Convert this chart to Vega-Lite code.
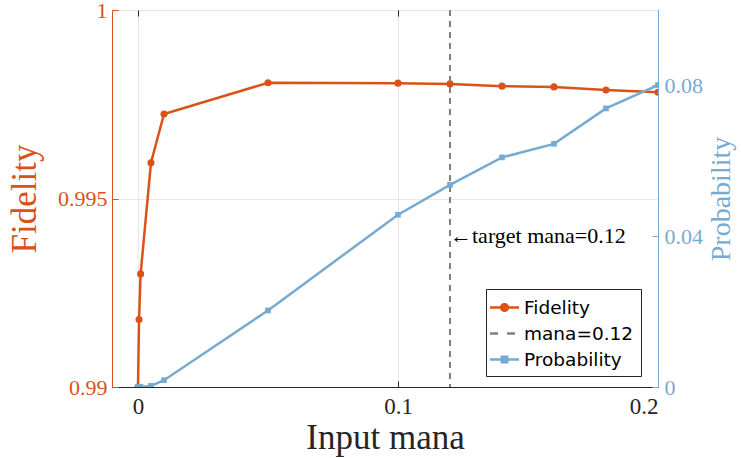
{
  "$schema": "https://vega.github.io/schema/vega-lite/v6.json",
  "width": 546,
  "height": 377,
  "autosize": {"type": "none"},
  "padding": {"left": 112, "top": 10, "right": 83, "bottom": 71},
  "config": {
    "view": {"stroke": "#666666", "strokeWidth": 1},
    "font": "Liberation Serif"
  },
  "datasets": {
    "fid": [
      {"x": 0, "fidelity": 0.99, "series": "Fidelity"},
      {"x": 0.0004, "fidelity": 0.99179, "series": "Fidelity"},
      {"x": 0.001, "fidelity": 0.993, "series": "Fidelity"},
      {"x": 0.005, "fidelity": 0.99595, "series": "Fidelity"},
      {"x": 0.01, "fidelity": 0.99724, "series": "Fidelity"},
      {"x": 0.05, "fidelity": 0.99807, "series": "Fidelity"},
      {"x": 0.1, "fidelity": 0.99806, "series": "Fidelity"},
      {"x": 0.12, "fidelity": 0.99804, "series": "Fidelity"},
      {"x": 0.14, "fidelity": 0.99798, "series": "Fidelity"},
      {"x": 0.16, "fidelity": 0.99796, "series": "Fidelity"},
      {"x": 0.18, "fidelity": 0.99788, "series": "Fidelity"},
      {"x": 0.2, "fidelity": 0.99782, "series": "Fidelity"}
    ],
    "prob": [
      {"x": 0, "probability": 0, "series": "Probability"},
      {"x": 0.0004, "probability": 0, "series": "Probability"},
      {"x": 0.001, "probability": 0, "series": "Probability"},
      {"x": 0.005, "probability": 0.0003, "series": "Probability"},
      {"x": 0.01, "probability": 0.0018, "series": "Probability"},
      {"x": 0.05, "probability": 0.0203, "series": "Probability"},
      {"x": 0.1, "probability": 0.0457, "series": "Probability"},
      {"x": 0.12, "probability": 0.0536, "series": "Probability"},
      {"x": 0.14, "probability": 0.0609, "series": "Probability"},
      {"x": 0.16, "probability": 0.0645, "series": "Probability"},
      {"x": 0.18, "probability": 0.0739, "series": "Probability"},
      {"x": 0.2, "probability": 0.0801, "series": "Probability"}
    ],
    "target": [
      {"x": 0.12, "series": "mana=0.12", "label": "←target mana=0.12", "fidelity": 0.994}
    ]
  },
  "layer": [
    {
      "layer": [
        {
          "data": {"name": "fid"},
          "mark": {"type": "line", "strokeWidth": 2.5, "clip": true},
          "encoding": {
            "x": {
              "field": "x", "type": "quantitative",
              "scale": {"domain": [-0.01, 0.2], "nice": false, "zero": false},
              "axis": {
                "values": [0, 0.1, 0.2], "format": "~g",
                "title": "Input mana", "titleFont": "Liberation Serif", "titleFontSize": 35,
                "titleFontWeight": "normal", "titleColor": "#262626", "titlePadding": 2,
                "labelFont": "Liberation Serif", "labelFontSize": 23, "labelColor": "#262626",
                "labelPadding": 14, "tickSize": -6, "tickColor": "#262626",
                "domainColor": "#262626", "gridColor": "#e6e6e6"
              }
            },
            "y": {
              "field": "fidelity", "type": "quantitative",
              "scale": {"domain": [0.99, 1], "nice": false, "zero": false},
              "axis": {
                "values": [0.99, 0.995, 1], "format": "~g",
                "title": "Fidelity", "titleFont": "Liberation Serif", "titleFontSize": 35,
                "titleFontWeight": "normal", "titleColor": "#D95319", "titlePadding": 15,
                "labelFont": "Liberation Serif", "labelFontSize": 22, "labelColor": "#D95319",
                "labelPadding": 11, "tickSize": -6, "tickColor": "#D95319",
                "domainColor": "#D95319", "gridColor": "#fbe2d8"
              }
            },
            "color": {
              "field": "series", "type": "nominal",
              "scale": {"domain": ["Fidelity", "mana=0.12", "Probability"], "range": ["#D95319", "#808080", "#77AAD1"]},
              "legend": {
                "title": null, "orient": "none", "legendX": 374, "legendY": 279,
                "strokeColor": "#262626", "fillColor": "white", "padding": 7,
                "labelFont": "DejaVu Sans", "labelFontSize": 18.5, "labelColor": "#000000",
                "labelOffset": 8, "rowPadding": 5, "symbolSize": 400,
                "encode": {
                  "symbols": {
                    "update": {
                      "shape": {"signal": "datum.value === 'Fidelity' ? 'M-1.45,0H1.45M0.33,0A0.33,0.33,0,1,1,-0.33,0A0.33,0.33,0,1,1,0.33,0Z' : datum.value === 'Probability' ? 'M-1.45,0H1.45M-0.27,-0.27H0.27V0.27H-0.27Z' : 'M-1.45,0H-0.65M0.25,0H1.05'"},
                      "fill": {"scale": "color", "field": "value"},
                      "stroke": {"scale": "color", "field": "value"},
                      "strokeWidth": {"value": 2.5},
                      "strokeDash": {"value": [1, 0]},
                      "opacity": {"value": 1},
                      "fillOpacity": {"value": 1}
                    }
                  }
                }
              }
            }
          }
        },
        {
          "data": {"name": "fid"},
          "mark": {"type": "point", "filled": true, "shape": "circle", "size": 50, "opacity": 1, "clip": true},
          "encoding": {
            "x": {"field": "x", "type": "quantitative"},
            "y": {"field": "fidelity", "type": "quantitative"},
            "color": {"field": "series", "type": "nominal"}
          }
        },
        {
          "data": {"name": "target"},
          "mark": {"type": "text", "align": "left", "baseline": "middle", "font": "Liberation Serif", "fontSize": 22, "color": "#000000", "dx": 0},
          "encoding": {
            "x": {"field": "x", "type": "quantitative"},
            "y": {"field": "fidelity", "type": "quantitative"},
            "text": {"field": "label"}
          }
        }
      ]
    },
    {
      "data": {"name": "target"},
      "mark": {"type": "rule", "strokeDash": [6, 5], "strokeWidth": 2},
      "encoding": {
        "x": {
          "field": "x", "type": "quantitative",
          "axis": {
            "orient": "top", "values": [0, 0.1, 0.2], "labels": false, "title": null,
            "grid": false, "domain": false, "tickSize": -6, "tickColor": "#262626"
          }
        },
        "color": {"field": "series", "type": "nominal"}
      }
    },
    {
      "layer": [
        {
          "data": {"name": "prob"},
          "mark": {"type": "line", "strokeWidth": 2.5, "clip": true},
          "encoding": {
            "x": {"field": "x", "type": "quantitative", "axis": null},
            "y": {
              "field": "probability", "type": "quantitative",
              "scale": {"domain": [0, 0.1], "nice": false},
              "axis": {
                "orient": "right", "values": [0, 0.04, 0.08], "format": "~g", "grid": false,
                "title": "Probability", "titleFont": "Liberation Serif", "titleFontSize": 28,
                "titleFontWeight": "normal", "titleColor": "#77AAD1", "titlePadding": 5,
                "titleAngle": 270, "titleBaseline": "top",
                "labelFont": "Liberation Serif", "labelFontSize": 22, "labelColor": "#77AAD1",
                "labelPadding": 12, "tickSize": -6, "tickColor": "#77AAD1",
                "domainColor": "#77AAD1"
              }
            },
            "color": {"field": "series", "type": "nominal"}
          }
        },
        {
          "data": {"name": "prob"},
          "mark": {"type": "point", "filled": true, "shape": "square", "size": 32, "opacity": 1, "clip": true},
          "encoding": {
            "x": {"field": "x", "type": "quantitative", "axis": null},
            "y": {"field": "probability", "type": "quantitative"},
            "color": {"field": "series", "type": "nominal"}
          }
        }
      ]
    }
  ],
  "resolve": {"scale": {"y": "independent"}, "axis": {"x": "independent"}}
}
